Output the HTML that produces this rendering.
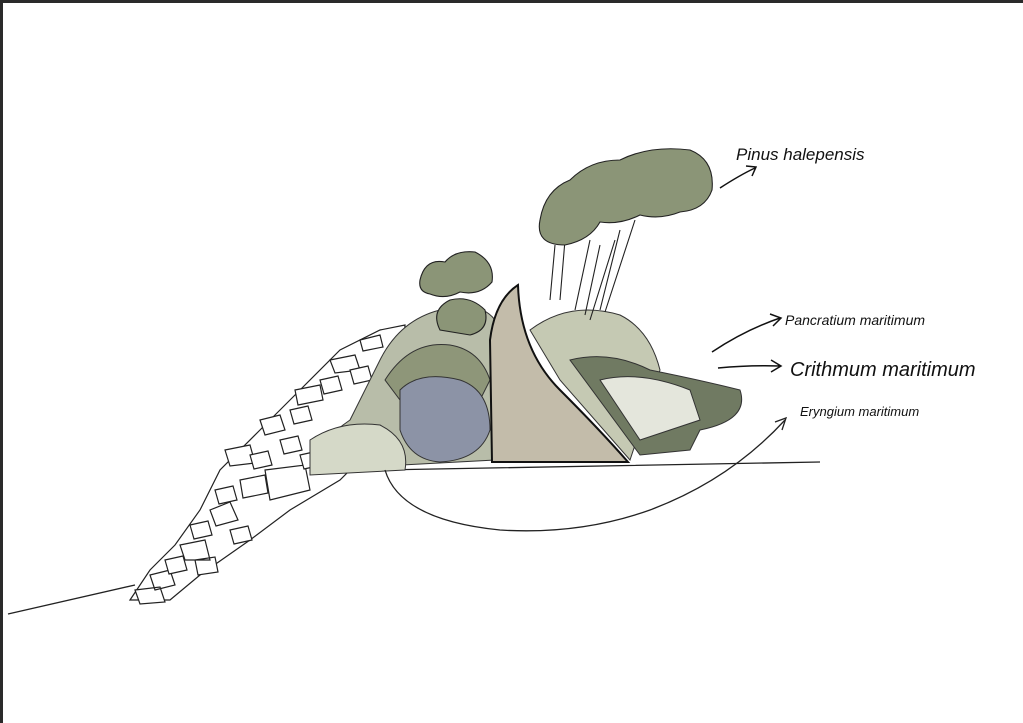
<!DOCTYPE html>
<html><head><style>
html,body{margin:0;padding:0;background:#fff;width:1023px;height:723px;overflow:hidden}
.f{position:absolute;left:0;top:0}
text{font-family:"Liberation Sans",sans-serif;font-style:italic;fill:#111}
</style></head><body>
<svg class="f" width="1023" height="723" viewBox="0 0 1023 723">
<rect x="0" y="0" width="1023" height="723" fill="#fff"/>
<rect x="0" y="0" width="1023" height="3" fill="#2a2a2a"/>
<rect x="0" y="0" width="3" height="723" fill="#2a2a2a"/>
<path d="M8 614 Q70 600 135 585 M380 470 L820 462" stroke="#222" stroke-width="1.3" fill="none"/>
<g fill="#fff" stroke="#222" stroke-width="1.2">
<path d="M130 600 L150 570 L175 545 L200 510 L220 470 L260 430 L300 390 L340 350 L380 330 L405 325 L400 420 L340 480 L290 510 L250 540 L200 575 L170 600 Z"/>
<path d="M150 575 l20 -5 5 15 -20 5z M180 545 l25 -5 5 20 -25 0z M210 510 l20 -8 8 18 -22 6z M240 480 l25 -5 3 18 -25 5z M265 470 l40 -5 5 25 -40 10z M225 450 l25 -5 5 18 -25 3z M260 420 l20 -5 5 15 -20 5z M295 390 l25 -5 3 15 -25 5z M330 360 l25 -5 5 15 -25 3z M360 340 l20 -5 3 12 -20 4z M135 590 l25 -3 5 15 -25 2z M195 560 l20 -3 3 15 -20 3z"/>
<path d="M165 560 l18 -4 4 14 -18 4z M190 525 l18 -4 4 14 -18 4z M215 490 l18 -4 4 14 -18 4z M250 455 l18 -4 4 14 -18 4z M280 440 l18 -4 4 14 -18 4z M290 410 l18 -4 4 14 -18 4z M320 380 l18 -4 4 14 -18 4z M350 370 l18 -4 4 14 -18 4z M300 455 l18 -4 4 14 -18 4z M230 530 l18 -4 4 14 -18 4z"/>
</g>
<g stroke="#333" stroke-width="1">
<path d="M380 360 Q400 320 440 310 Q480 300 495 320 L495 460 L310 470 Q320 440 350 420 Z" fill="#b8bda9"/>
<path d="M385 380 Q410 340 450 345 Q480 350 490 380 L480 400 L400 400 Z" fill="#8e9679"/>
<path d="M400 390 Q420 370 460 380 Q490 390 490 430 Q480 460 440 462 Q410 460 400 430 Z" fill="#8c93a6"/>
<path d="M310 440 Q340 420 380 425 Q410 440 405 470 L310 475 Z" fill="#d5d9c8"/>
<path d="M530 330 Q570 300 620 315 Q650 330 660 370 L630 460 L560 380 Z" fill="#c5c9b3"/>
<path d="M570 360 Q610 350 650 370 Q700 380 740 390 Q750 420 700 430 L690 450 L640 455 Z" fill="#707a62"/>
<path d="M600 380 Q640 370 690 390 L700 420 L640 440 Z" fill="#e4e6dc"/>
</g>
<g stroke="#222" stroke-width="1.1" fill="#8b9577">
<path d="M420 280 Q425 258 445 262 Q455 250 475 252 Q495 262 492 282 Q480 296 460 292 Q445 300 430 294 Q418 292 420 280Z"/>
<path d="M440 330 Q430 310 450 300 Q470 295 485 310 Q490 330 470 335 Z"/>
</g>
<g stroke="#222" stroke-width="1.1">
<path d="M550 300 L555 245 M560 300 L565 240 M575 310 L590 240 M585 315 L600 245 M600 310 L620 230 M590 320 L615 240 M605 312 L635 220" fill="none"/>
<path d="M540 220 Q545 190 570 180 Q590 160 620 160 Q650 145 690 150 Q715 160 712 190 Q705 210 680 212 Q660 220 640 215 Q620 225 600 222 Q590 240 565 245 Q535 245 540 220Z" fill="#8b9577"/>
</g>
<path d="M492 462 L490 340 Q495 300 518 285 Q520 350 560 390 Q600 430 628 462 Z" fill="#c3bcaa" stroke="#111" stroke-width="2"/>
<path d="M385 470 Q400 520 500 530 Q580 535 650 510 Q730 480 785 420" stroke="#222" stroke-width="1.3" fill="none"/>
<path d="M775 422 L786 418 L782 430" stroke="#222" stroke-width="1.3" fill="none"/>
<g stroke="#111" stroke-width="1.5" fill="none">
<path d="M720 188 Q740 175 755 168 M746 166 L756 167 L752 176"/>
<path d="M712 352 Q745 330 780 318 M770 314 L781 318 L773 326"/>
<path d="M718 368 Q750 365 780 366 M771 360 L781 366 L771 372"/>
</g>
<text x="736" y="160" font-size="17">Pinus halepensis</text>
<text x="785" y="325" font-size="14">Pancratium maritimum</text>
<text x="790" y="376" font-size="20">Crithmum maritimum</text>
<text x="800" y="416" font-size="13">Eryngium maritimum</text>
</svg>
</body></html>
